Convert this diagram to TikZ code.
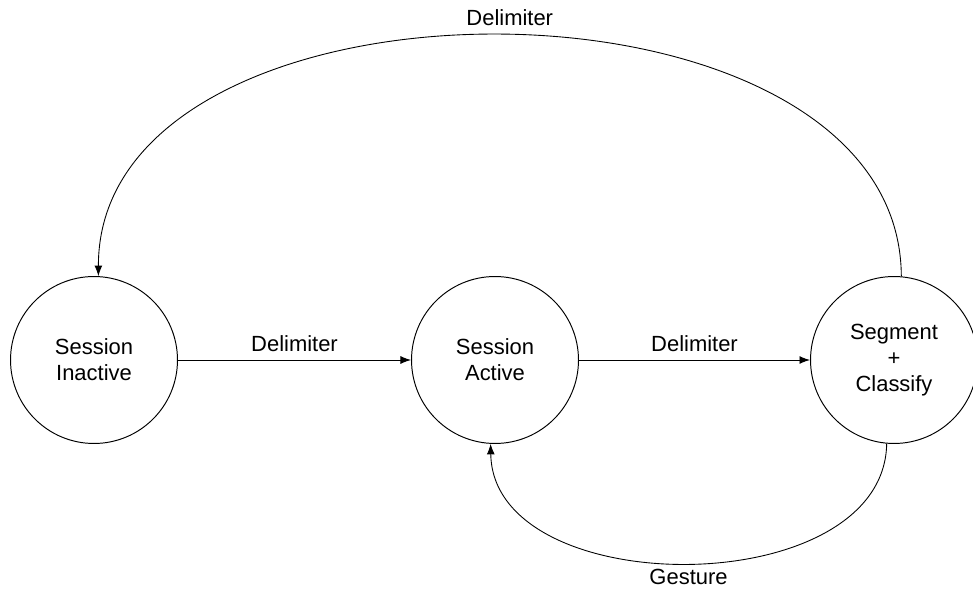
\documentclass[tikz,border=0pt]{standalone}
\usepackage{fontspec}
\setmainfont{Liberation Sans}
\usetikzlibrary{arrows.meta}

\begin{document}
\begin{tikzpicture}[x=0.02cm,y=-0.02cm]
\tikzstyle{state}=[circle, draw=black, line width=0.55pt, minimum size=3.34cm, inner sep=0pt, align=center, font=\fontsize{12.5}{14.7}\selectfont]
\tikzstyle{trans}=[-{Latex[length=6pt,width=4.5pt]}, line width=0.5pt]
\tikzstyle{lbl}=[font=\fontsize{12.5}{14.7}\selectfont]

\useasboundingbox (0,0) rectangle (973,590);

\node (inactive) at (94,360) [state] {Session\\Inactive};
\node (active) at (495,360) [state] {Session\\Active};
\node (segclass) at (894,360) [state] {Segment\\+\\Classify};

\draw[trans] (inactive) -- node[lbl, above, yshift=1] {Delimiter} (active);
\draw[trans] (active) -- node[lbl, above, yshift=1] {Delimiter} (segclass);
\draw[trans] (segclass.85) .. controls (900,-45) and (98,-45) .. node[lbl, above, xshift=6, yshift=2] {Delimiter} (inactive.87);
\draw[trans] (segclass.-95) .. controls (884,603) and (493,603) .. node[lbl, below] {Gesture} (active.-93);
\end{tikzpicture}
\end{document}
